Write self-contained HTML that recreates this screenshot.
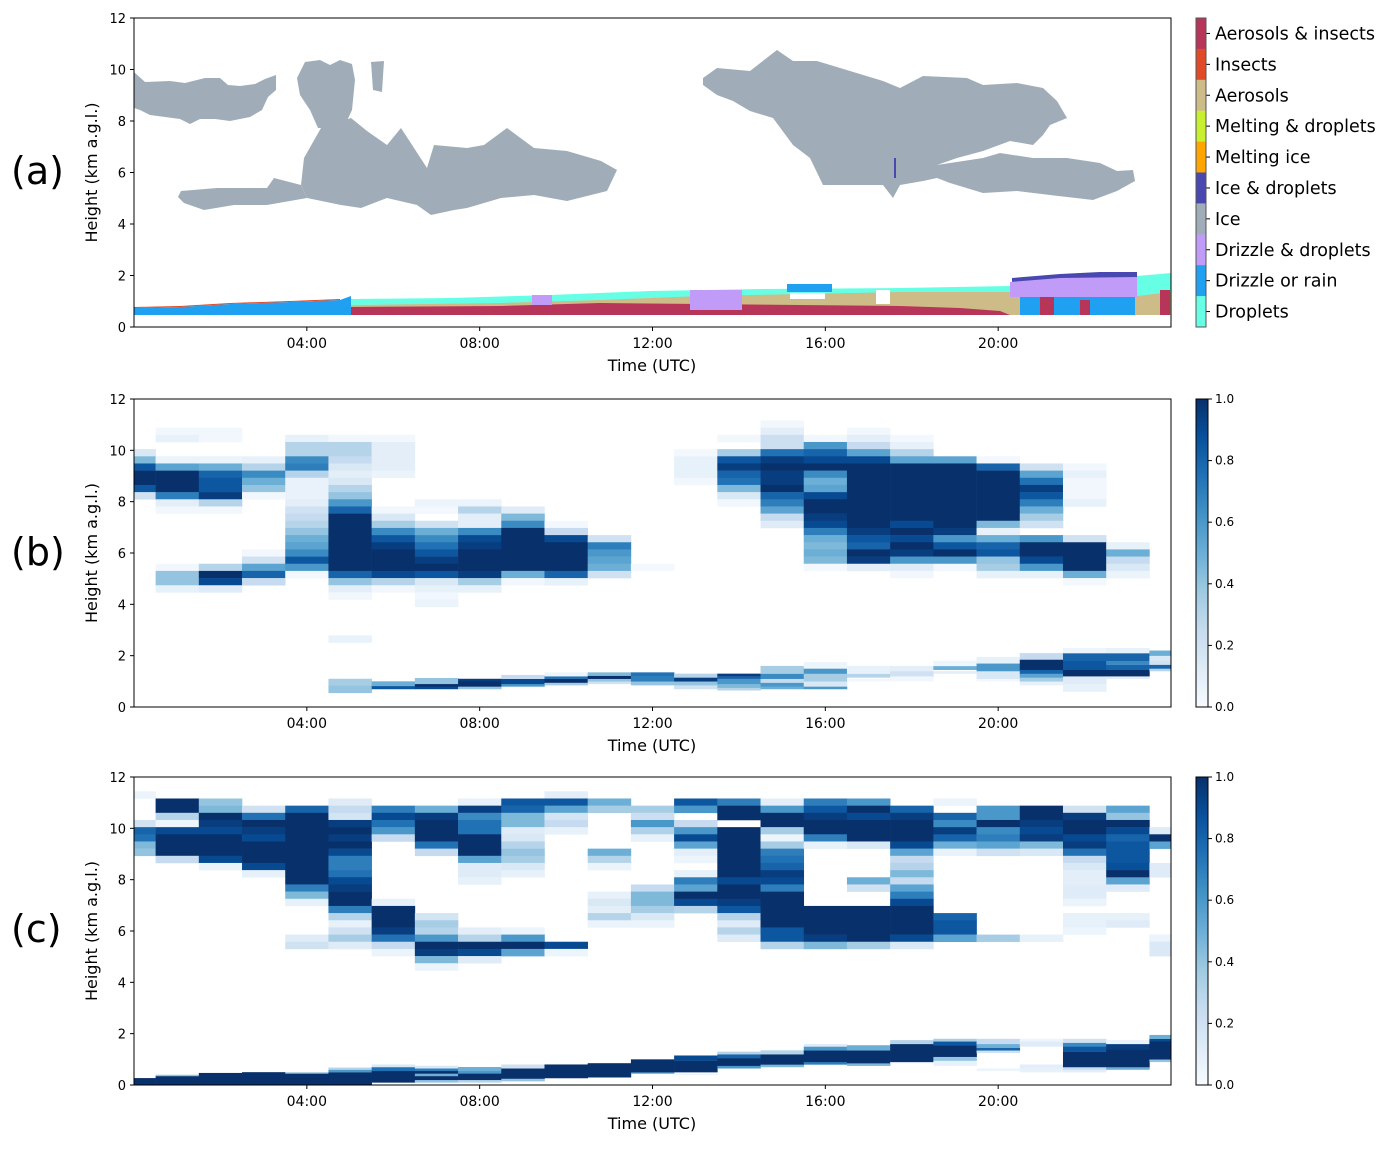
<!DOCTYPE html>
<html><head><meta charset="utf-8">
<style>
html,body{margin:0;padding:0;background:#fff;}
svg{display:block;font-family:"DejaVu Sans","Liberation Sans",sans-serif;}
</style></head>
<body>
<svg id="chart" width="1396" height="1149" viewBox="0 0 1396 1149" xmlns="http://www.w3.org/2000/svg">
<defs>
<clipPath id="clipA"><rect x="134" y="18" width="1037" height="309"/></clipPath>
<clipPath id="clipB"><rect x="134" y="399" width="1037" height="308"/></clipPath>
<clipPath id="clipC"><rect x="134" y="777" width="1037" height="308"/></clipPath>
<linearGradient id="bluesGrad" x1="0" y1="1" x2="0" y2="0">
<stop offset="0" stop-color="#f7fbff"/><stop offset="0.125" stop-color="#deebf7"/><stop offset="0.25" stop-color="#c6dbef"/><stop offset="0.375" stop-color="#9ecae1"/><stop offset="0.5" stop-color="#6baed6"/><stop offset="0.625" stop-color="#4292c6"/><stop offset="0.75" stop-color="#2171b5"/><stop offset="0.875" stop-color="#08519c"/><stop offset="1" stop-color="#08306b"/>
</linearGradient>
</defs>

<!-- Panel (a) classification -->
<g clip-path="url(#clipA)">
  <g fill="#a0adb8">
    <polygon points="134,72 145,82 170,81 185,83 205,78 220,78 228,85 240,86 255,84 265,79 276,75 276,90 268,97 262,110 250,117 230,121 215,119 200,119 190,124 180,119 165,117 150,115 140,110 134,108"/>
    <polygon points="181,191 217,188 267,188 274,178 301,185 307,198 267,205 234,205 204,210 184,203 178,197"/>
    <polygon points="304,158 321,128 351,118 367,131 387,145 401,128 427,168 434,145 467,148 484,145 507,128 534,148 567,151 601,161 617,170 607,191 567,201 534,195 501,198 467,208 454,210 431,215 417,205 387,198 361,208 341,205 307,198 301,185"/>
    <polygon points="297,78 305,62 320,60 330,65 340,60 352,64 355,80 352,110 345,125 330,128 318,128 310,110 300,95"/>
    <polygon points="371,62 384,61 382,92 373,90"/>
    <polygon points="703,78 717,68 750,71 777,50 793,61 817,61 850,71 883,81 900,88 923,76 967,78 983,85 1017,83 1043,88 1057,101 1067,118 1050,125 1043,135 1033,145 1010,141 983,151 957,158 937,165 937,178 923,181 900,185 893,198 883,185 850,185 823,185 810,158 793,145 773,118 750,111 733,101 717,95 703,85"/>
    <polygon points="937,165 983,158 1000,153 1033,158 1067,158 1100,163 1117,171 1133,170 1135,181 1117,191 1093,200 1050,195 1017,191 983,193 950,183 937,178"/>
  </g>
  <rect x="894" y="158" width="2" height="20" fill="#4848b0"/>
  <g>
    <polygon fill="#20a0f0" points="134,308 180,307 230,304 290,302 340,300 351,296 351,315 134,315"/>
    <polygon fill="#e04a26" points="134,307 180,306 230,303 290,301 340,299 340,300 290,302 230,304 180,307 134,308"/>
    <polygon fill="#66ffe6" points="351,299 450,298 550,295 650,291 760,289 900,288 1010,286 1010,300 351,305"/>
    <polygon fill="#cdbc88" points="351,305 500,303 600,300 700,296 900,292 1010,292 1171,292 1171,315 351,315"/>
    <polygon fill="#b8355a" points="351,307 500,306 600,303 700,304 800,305 900,306 960,308 1000,311 1010,315 351,315"/>
    <rect x="532" y="295" width="20" height="10" fill="#c09cf8"/>
    <rect x="690" y="290" width="52" height="20" fill="#c09cf8"/>
    <rect x="787" y="284" width="45" height="8" fill="#20a0f0"/>
    <rect x="876" y="290" width="14" height="14" fill="#fff"/>
    <rect x="790" y="293" width="35" height="6" fill="#fff"/>
    <polygon fill="#4848b0" points="1012,278 1060,274 1100,272 1137,272 1137,278 1012,282"/>
    <polygon fill="#c09cf8" points="1010,282 1060,278 1137,277 1137,297 1010,297"/>
    <rect x="1020" y="297" width="115" height="18" fill="#20a0f0"/>
    <rect x="1040" y="297" width="14" height="18" fill="#b8355a"/>
    <rect x="1080" y="300" width="10" height="15" fill="#b8355a"/>
    <polygon fill="#66ffe6" points="1137,276 1171,273 1171,292 1137,296"/>
    <rect x="1137" y="296" width="34" height="19" fill="#cdbc88"/>
    <rect x="1160" y="290" width="10" height="25" fill="#b8355a"/>
  </g>
</g>
<rect x="134" y="18" width="1037" height="309" fill="none" stroke="#333" stroke-width="1"/>

<g id="layer"></g>
</svg>

<script>
// ---------- data ----------
const hours = [0,1,2,3,4,5,6,7,8,9,10,11,12,13,14,15,16,17,18,19,20,21,22,23,24];
const xTickHours = [4,8,12,16,20];
const xTickLabels = ["04:00","08:00","12:00","16:00","20:00"];
const yTicks = [0,2,4,6,8,10,12];
const cbTicks = [0,0.2,0.4,0.6,0.8,1.0];
const cbTickLabels = ["0.0","0.2","0.4","0.6","0.8","1.0"];
const classNames = ["Aerosols & insects","Insects","Aerosols","Melting & droplets","Melting ice","Ice & droplets","Ice","Drizzle & droplets","Drizzle or rain","Droplets"];
const classColors = ["#b8355a","#e04a26","#cdbc88","#c8f030","#ffa500","#4848b0","#a0adb8","#c09cf8","#20a0f0","#66ffe6"];
const nBins = 43; // upper-level bins over 12 km, index counted from top

// panel (b) upper cloud bins: [binFrom, binTo, value] per hour
const bUpper = [
[[7,7,.15],[8,8,.45],[9,9,.85],[10,11,1],[12,12,.85],[13,13,.2]],
[[4,4,.03],[5,5,.08],[8,8,.06],[9,9,.55],[10,12,1],[13,13,.7],[14,14,.1],[15,15,.03],[23,23,.03],[24,25,.4],[26,26,.08]],
[[4,5,.03],[8,8,.06],[9,9,.5],[10,10,.8],[11,12,.85],[13,13,.95],[14,14,.3],[15,15,.03],[23,23,.3],[24,24,1],[25,25,.9],[26,26,.12]],
[[8,8,.08],[9,9,.3],[10,10,.65],[11,11,.5],[12,12,.4],[13,13,.03],[21,21,.03],[22,22,.2],[23,23,.55],[24,24,.8],[25,25,.25]],
[[5,5,.08],[6,7,.3],[8,8,.65],[9,9,.7],[10,10,.3],[11,13,.07],[14,14,.1],[15,15,.2],[16,16,.25],[17,17,.3],[18,18,.4],[19,19,.5],[20,20,.55],[21,21,.65],[22,22,.85],[23,23,.6],[24,24,.02]],
[[5,5,.03],[6,7,.3],[8,8,.25],[9,9,.15],[10,10,.1],[11,11,.15],[12,12,.3],[13,13,.4],[14,14,.6],[15,15,.8],[16,23,1],[24,24,.8],[25,25,.4],[26,26,.1],[27,27,.03],[33,33,.07]],
[[5,5,.03],[6,9,.1],[10,10,.06],[15,15,.03],[16,16,.15],[17,17,.35],[18,18,.65],[19,19,.85],[20,20,.95],[21,23,1],[24,24,.9],[25,25,.3],[26,26,.03]],
[[14,14,.06],[15,15,.02],[17,17,.2],[18,18,.5],[19,19,.65],[20,20,.75],[21,21,.85],[22,22,.95],[23,23,1],[24,24,.85],[25,25,.15],[26,26,.08],[27,27,.03],[28,28,.06]],
[[14,14,.06],[15,15,.3],[16,17,.1],[18,18,.65],[19,19,.9],[20,20,.95],[21,23,1],[24,24,.95],[25,25,.35],[26,26,.08]],
[[15,15,.12],[16,16,.45],[17,17,.65],[18,23,1],[24,24,.5],[25,25,.03]],
[[17,17,.02],[18,18,.25],[19,19,.9],[20,23,1],[24,24,.8],[25,25,.08]],
[[19,19,.2],[20,20,.7],[21,21,.6],[22,22,.55],[23,23,.5],[24,24,.2]],
[[23,23,.02]],
[[7,7,.02],[8,10,.08],[11,11,.03]],
[[5,5,.03],[7,7,.35],[8,8,.85],[9,9,.95],[10,10,.8],[11,11,.75],[12,12,.45],[13,13,.15],[14,14,.03]],
[[3,3,.03],[4,4,.1],[5,6,.22],[7,7,.75],[8,8,.95],[9,9,1],[10,11,.95],[12,12,1],[13,13,.8],[14,14,.7],[15,15,.55],[16,16,.25],[17,17,.12]],
[[5,5,.03],[6,6,.6],[7,7,.8],[8,8,.9],[9,9,1],[10,10,.65],[11,11,.5],[12,12,.55],[13,13,.9],[14,15,1],[16,16,.95],[17,17,.9],[18,18,.7],[19,19,.5],[20,20,.45],[21,21,.5],[22,22,.45],[23,23,.02]],
[[4,4,.03],[5,5,.1],[6,6,.25],[7,7,.55],[8,8,.9],[9,17,1],[18,18,.95],[19,19,.85],[20,20,.8],[21,21,1],[22,22,.95],[23,23,.1]],
[[5,5,.02],[6,6,.08],[7,7,.3],[8,8,.55],[9,16,1],[17,17,.9],[18,18,1],[19,19,.9],[20,20,1],[21,21,.95],[22,22,.6],[23,23,.12],[24,24,.03]],
[[8,8,.55],[9,17,1],[18,18,.95],[19,19,.6],[20,20,.85],[21,21,1],[22,22,.6],[23,23,.03]],
[[8,8,.02],[9,9,.8],[10,16,1],[17,17,.45],[18,18,.08],[19,19,.5],[20,20,.8],[21,21,.85],[22,22,.4],[23,23,.35],[24,24,.08]],
[[9,9,.2],[10,10,.55],[11,11,.75],[12,12,.95],[13,13,.85],[14,14,.7],[15,15,.5],[16,16,.35],[17,17,.2],[19,19,.6],[20,21,1],[22,22,.9],[23,23,.6],[24,24,.08]],
[[9,9,.03],[10,10,.08],[11,13,.03],[14,14,.08],[19,19,.2],[20,23,1],[24,24,.5],[25,25,.02]],
[[20,20,.08],[21,21,.5],[22,22,.25],[23,23,.15],[24,24,.06]],
[]
];
// panel (b) boundary-layer segments: [bottomKm, topKm, value]
const bLow = [
[],[],[],[],[],
[[0.55,0.85,.4],[0.85,1.1,.35]],
[[0.7,0.82,.85],[0.82,1.0,.5]],
[[0.7,0.8,.9],[0.8,0.9,1],[0.9,1.13,.4]],
[[0.7,0.8,.4],[0.8,1.0,1],[1.0,1.1,.95]],
[[0.8,0.9,.6],[0.9,1.1,.9],[1.1,1.25,.25]],
[[0.85,0.95,.35],[0.95,1.1,1],[1.1,1.2,.75],[1.2,1.35,.05]],
[[0.9,1.0,.2],[1.0,1.1,.4],[1.1,1.22,1],[1.22,1.35,.45]],
[[0.85,1.0,.4],[1.0,1.2,.7],[1.2,1.35,.75]],
[[0.7,0.85,.2],[0.85,1.0,.4],[1.0,1.15,.95],[1.15,1.3,.3]],
[[0.65,0.75,.3],[0.75,0.9,.45],[0.9,1.1,.6],[1.1,1.2,.8],[1.2,1.3,.95]],
[[0.7,0.8,.5],[0.8,0.95,.6],[0.95,1.1,.25],[1.1,1.3,.65],[1.3,1.6,.35]],
[[0.7,0.8,.6],[0.8,1.0,.15],[1.0,1.3,.35],[1.3,1.5,.6],[1.5,1.75,.05]],
[[1.0,1.1,.03],[1.15,1.3,.3],[1.3,1.6,.08]],
[[1.0,1.2,.03],[1.2,1.4,.2],[1.4,1.6,.1]],
[[1.3,1.4,.1],[1.45,1.6,.5],[1.6,1.8,.05]],
[[1.0,1.1,.03],[1.1,1.4,.15],[1.4,1.7,.6],[1.7,1.95,.08]],
[[0.85,1.0,.08],[1.0,1.15,.35],[1.15,1.3,.55],[1.3,1.45,.8],[1.45,1.85,1],[1.85,2.1,.25]],
[[0.6,0.9,.08],[0.9,1.2,.12],[1.2,1.45,1],[1.45,1.8,.85],[1.8,2.1,.8],[2.1,2.3,.05]],
[[1.1,1.2,.1],[1.2,1.45,1],[1.45,1.65,.8],[1.65,1.8,.65],[1.8,2.1,.8],[2.1,2.3,.08]],
[[1.4,1.5,.3],[1.5,1.65,.8],[1.65,1.8,.2],[1.8,2.0,.15],[2.0,2.2,.5]]
];
// panel (c) upper cloud bins
const cUpper = [
[[2,2,.06],[6,6,.2],[7,7,.8],[8,8,.75],[9,9,.45],[10,10,.4]],
[[3,4,1],[5,5,.3],[6,6,.05],[7,7,.9],[8,10,1],[11,11,.25]],
[[3,3,.4],[4,4,.45],[5,5,1],[6,6,.95],[7,7,.9],[8,10,1],[11,11,.9],[12,12,.06]],
[[4,4,.2],[5,5,.75],[6,6,1],[7,7,.95],[8,8,.9],[9,11,1],[12,12,.9],[13,13,.08]],
[[4,4,.8],[5,14,1],[15,15,.7],[16,16,.45],[17,17,.08],[22,22,.12],[23,23,.2]],
[[3,3,.12],[4,4,.25],[5,5,.18],[6,6,.95],[7,7,1],[8,8,.95],[9,9,1],[10,10,.9],[11,12,.7],[13,13,.75],[14,14,.9],[15,15,.95],[16,17,1],[18,18,.7],[19,19,.3],[20,20,.08],[21,21,.2],[22,22,.35],[23,23,.12]],
[[4,4,.7],[5,5,.9],[6,6,.75],[7,7,.6],[8,8,.25],[17,17,.08],[18,20,1],[21,21,.95],[22,22,.75],[23,23,.25],[24,24,.06]],
[[4,4,.5],[5,5,.95],[6,8,1],[9,9,.75],[10,10,.25],[19,19,.18],[20,20,.35],[21,21,.3],[22,22,.6],[23,23,1],[24,24,.95],[25,25,.45],[26,26,.06]],
[[3,3,.08],[4,4,.95],[5,5,.65],[6,7,.75],[8,10,1],[11,11,.55],[12,13,.12],[14,14,.08],[21,21,.1],[22,22,.3],[23,23,1],[24,24,.9],[25,25,.12]],
[[3,3,.85],[4,4,.8],[5,6,.45],[7,7,.12],[8,8,.15],[9,9,.3],[10,10,.4],[11,11,.35],[12,12,.15],[13,13,.08],[21,21,.06],[22,22,.6],[23,23,1],[24,24,.55]],
[[2,2,.1],[3,3,.85],[4,4,.55],[5,5,.18],[6,6,.25],[7,7,.08],[23,23,.9],[24,24,.05]],
[[3,3,.5],[4,4,.35],[10,10,.5],[11,11,.3],[12,12,.06],[16,16,.08],[17,17,.15],[18,18,.1],[19,19,.3],[20,20,.06]],
[[4,4,.35],[5,5,.22],[6,6,.6],[7,7,.32],[8,8,.08],[15,15,.25],[16,17,.45],[18,18,.35],[19,19,.15],[20,20,.06]],
[[3,3,.85],[4,4,.6],[6,6,.25],[7,7,.6],[8,8,.9],[9,9,.55],[10,10,.1],[11,11,.05],[13,13,.08],[14,14,.7],[15,15,.55],[16,16,1],[17,17,.9],[18,18,.3]],
[[3,3,.7],[4,5,1],[7,13,1],[14,14,.9],[15,16,1],[17,17,.95],[18,18,.85],[19,19,.3],[20,20,.12],[21,21,.3],[22,22,.12]],
[[3,3,.1],[4,4,.6],[5,6,1],[7,7,.35],[8,8,.05],[9,9,.35],[10,10,.7],[11,11,.75],[12,12,.8],[13,13,.95],[14,14,.9],[15,15,.7],[16,20,1],[21,22,.85],[23,23,.3]],
[[3,3,.7],[4,4,.85],[5,5,.95],[6,7,1],[8,8,.7],[9,9,.08],[18,21,1],[22,22,.95],[23,23,.45]],
[[3,3,.6],[4,4,1],[5,5,.9],[6,8,1],[9,9,.15],[14,14,.5],[15,15,.2],[18,22,1],[23,23,.35]],
[[4,4,.8],[5,5,.95],[6,8,1],[9,9,.9],[10,10,.55],[11,11,.25],[12,12,.3],[13,13,.45],[14,14,.25],[15,15,.55],[16,16,.7],[17,17,.9],[18,21,1],[22,22,.9],[23,23,.15]],
[[3,3,.06],[5,5,.8],[6,6,.65],[7,7,.95],[8,8,.8],[9,9,.5],[10,10,.07],[19,19,.8],[20,21,.85],[22,22,.55]],
[[4,5,.6],[6,6,1],[7,7,.65],[8,8,.7],[9,9,.55],[10,10,.2],[22,22,.35]],
[[4,5,1],[6,6,.95],[7,7,.9],[8,8,.95],[9,9,.45],[10,10,.15],[22,22,.08]],
[[4,4,.2],[5,5,.95],[6,7,1],[8,8,.9],[9,9,.95],[10,10,.75],[11,11,.25],[12,12,.15],[13,14,.1],[15,16,.12],[17,17,.06],[19,20,.08],[21,21,.05]],
[[4,4,.55],[5,5,.4],[6,6,1],[7,7,.9],[8,8,.8],[9,11,.85],[12,12,.88],[13,13,1],[14,14,.55],[15,15,.12],[19,19,.08],[20,20,.12]],
[[7,7,.12],[8,8,1],[9,9,.55],[12,13,.12],[22,22,.06],[23,24,.14]]
];
// panel (c) boundary-layer segments
const cLow = [
[[0,0.27,1]],
[[0,0.35,1],[0.35,0.4,.4]],
[[0,0.47,1]],
[[0,0.5,1]],
[[0,0.45,1],[0.45,0.5,.35]],
[[0,0.5,1],[0.5,0.6,.6],[0.6,0.68,.3]],
[[0.1,0.55,1],[0.55,0.7,.75],[0.7,0.8,.15]],
[[0.1,0.2,.4],[0.2,0.35,1],[0.35,0.45,.5],[0.45,0.55,1],[0.55,0.65,.7],[0.65,0.75,.15]],
[[0.1,0.2,.3],[0.2,0.45,1],[0.45,0.55,.6],[0.55,0.7,.5]],
[[0.15,0.25,.4],[0.25,0.65,1],[0.65,0.8,.2]],
[[0.27,0.8,1]],
[[0.3,0.85,1]],
[[0.45,0.5,.6],[0.5,1.0,1]],
[[0.4,0.45,.05],[0.5,0.95,1],[0.95,1.15,.9]],
[[0.65,0.75,.6],[0.75,1.05,1],[1.05,1.2,.8],[1.2,1.3,.3]],
[[0.7,0.8,.45],[0.8,1.2,1],[1.2,1.35,.3]],
[[0.8,0.9,.7],[0.9,1.35,1],[1.35,1.5,.6],[1.5,1.6,.12]],
[[0.75,0.85,.45],[0.85,1.35,1],[1.35,1.55,.5]],
[[0.85,0.9,.06],[0.9,1.6,1],[1.6,1.75,.3]],
[[0.75,0.95,.08],[0.95,1.1,.4],[1.1,1.55,1],[1.55,1.7,.85],[1.7,1.8,.35]],
[[0.55,0.65,.05],[1.25,1.35,.2],[1.35,1.45,.8],[1.45,1.6,.5],[1.6,1.8,.25]],
[[0.5,0.65,.08],[0.65,0.8,.1],[1.5,1.7,.12],[1.7,1.8,.05]],
[[0.5,0.6,.1],[0.6,0.7,.25],[0.7,1.3,1],[1.3,1.5,.85],[1.5,1.65,.65],[1.65,1.8,.2]],
[[0.6,0.7,.5],[0.7,1.4,1],[1.4,1.6,.95],[1.6,1.75,.06]],
[[0.9,1.0,.4],[1.0,1.7,1],[1.7,1.8,.9],[1.8,1.95,.5]]
];

// ---------- helpers ----------
const NS = "http://www.w3.org/2000/svg";
const X0 = 134, W = 1037;
function xS(h){ return X0 + h * W / 24; }
function yS(km, top, h){ return top + h - km * h / 12; }
const bluesStops = ["#f7fbff","#deebf7","#c6dbef","#9ecae1","#6baed6","#4292c6","#2171b5","#08519c","#08306b"];
function hex(c){ return [parseInt(c.slice(1,3),16),parseInt(c.slice(3,5),16),parseInt(c.slice(5,7),16)]; }
function blues(v){
  v = Math.max(0, Math.min(1, v));
  const p = v * 8, i = Math.min(7, Math.floor(p)), f = p - i;
  const a = hex(bluesStops[i]), b = hex(bluesStops[i+1]);
  return "rgb(" + a.map((x,k)=>Math.round(x + (b[k]-x)*f)).join(",") + ")";
}
function mk(tag, attrs, parent){
  const e = document.createElementNS(NS, tag);
  for (const k in attrs) e.setAttribute(k, attrs[k]);
  parent.appendChild(e);
  return e;
}
const layer = document.getElementById("layer");

function axes(top, h, label, letterY){
  const g = mk("g", {}, layer);
  
  
  xTickHours.forEach((hr, i) => {
    const x = xS(hr);
    const t = mk("line", {x1:x, x2:x, y1:top+h, y2:top+h+4, stroke:"#000", "stroke-width":1}, g);
    
    
    const tx = mk("text", {x:x, y:top+h+21, "font-size":14, "text-anchor":"middle", fill:"#000"}, g);
    
    
    tx.textContent = xTickLabels[i];
  });
  yTicks.forEach(v => {
    const y = yS(v, top, h);
    const t = mk("line", {x1:X0-4, x2:X0, y1:y, y2:y, stroke:"#000", "stroke-width":1}, g);
    
    
    const tx = mk("text", {x:X0-8, y:y+5, "font-size":13, "text-anchor":"end", fill:"#000"}, g);
    
    
    tx.textContent = v;
  });
  const xl = mk("text", {x:652, y:top+h+44, "font-size":16, "text-anchor":"middle", fill:"#000"}, g);
  
  
  xl.textContent = "Time (UTC)";
  const yl = mk("text", {x:0, y:0, "font-size":16, "text-anchor":"middle", fill:"#000", transform:"translate(97," + (top+h/2) + ") rotate(-90)"}, g);
  
  
  yl.textContent = "Height (km a.g.l.)";
  const lt = mk("text", {x:11, y:letterY, "font-size":38, fill:"#000"}, g);
  
  
  lt.textContent = "(" + label + ")";
  const fr = mk("rect", {x:X0, y:top, width:W, height:h, fill:"none", stroke:"#000", "stroke-width":1}, g);
  
  
}

function heatmap(top, h, upper, low, clip, name){
  const g = mk("g", {"clip-path":"url(#" + clip + ")"}, layer);
  
  
  const binKm = 12 / nBins;
  hours.forEach((hr, i) => {
    const x1 = xS(hr - 0.5), x2 = xS(hr + 0.5);
    (upper[i] || []).forEach(s => {
      const kTop = 12 - s[0] * binKm, kBot = 12 - (s[1] + 1) * binKm;
      const y1 = yS(kTop, top, h), y2 = yS(kBot, top, h);
      const r = mk("rect", {x:x1, y:y1, width:x2-x1+0.3, height:y2-y1+0.3, fill:blues(s[2])}, g);
      
      
    });
    (low[i] || []).forEach(s => {
      const y1 = yS(s[1], top, h), y2 = yS(s[0], top, h);
      const r = mk("rect", {x:x1, y:y1, width:x2-x1+0.3, height:y2-y1+0.2, fill:blues(s[2])}, g);
      
      
    });
  });
}

function colorbar(top, h, name){
  const g = mk("g", {}, layer);
  
  
  const r = mk("rect", {x:1196, y:top, width:12, height:h, fill:"url(#bluesGrad)", stroke:"#000", "stroke-width":1}, g);
  
  
  cbTicks.forEach((v, i) => {
    const y = top + h - v * h;
    const t = mk("line", {x1:1208, x2:1212, y1:y, y2:y, stroke:"#000"}, g);
    
    
    const tx = mk("text", {x:1215, y:y+4, "font-size":12, fill:"#000"}, g);
    
    
    tx.textContent = cbTickLabels[i];
  });
}

function classLegend(){
  const g = mk("g", {}, layer);
  
  
  const top = 18, h = 309, n = classNames.length, seg = h / n;
  classNames.forEach((nm, i) => {
    const y = top + i * seg;
    const r = mk("rect", {x:1196, y:y, width:10, height:seg+0.3, fill:classColors[i]}, g);
    
    
    const t = mk("line", {x1:1206, x2:1210, y1:y+seg/2, y2:y+seg/2, stroke:"#000"}, g);
    
    
    const tx = mk("text", {x:1215, y:y+seg/2+6, "font-size":17.5, fill:"#000"}, g);
    
    
    tx.textContent = nm;
  });
  const fr = mk("rect", {x:1196, y:top, width:10, height:h, fill:"none", stroke:"#555", "stroke-width":1}, g);
  
  
}

heatmap(399, 308, bUpper, bLow, "clipB", "panel-b-heatmap");
heatmap(777, 308, cUpper, cLow, "clipC", "panel-c-heatmap");
axes(18, 309, "a", 184);
axes(399, 308, "b", 565);
axes(777, 308, "c", 942);
classLegend();
colorbar(399, 308, "panel-b-colorbar");
colorbar(777, 308, "panel-c-colorbar");
</script>
</body></html>
